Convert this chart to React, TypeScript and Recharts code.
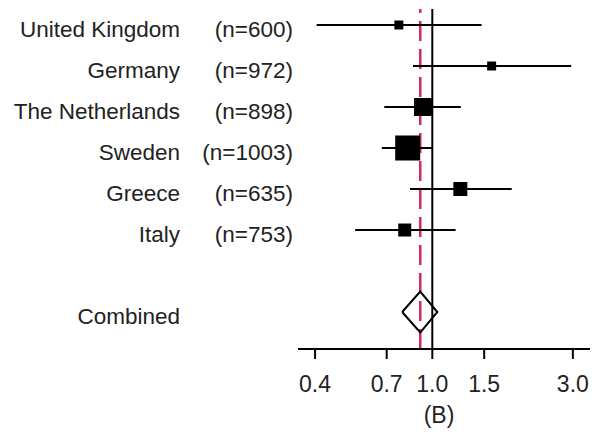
import React from 'react';
import {
  ScatterChart,
  Scatter,
  XAxis,
  YAxis,
  ReferenceLine,
  ErrorBar,
} from 'recharts';

const countries = ['United Kingdom', 'Germany', 'The Netherlands', 'Sweden', 'Greece', 'Italy'];
const sampleSizes = [600, 972, 898, 1003, 635, 753];
const estimates = [0.77, 1.59, 0.93, 0.825, 1.245, 0.806];
const lowerCI = [0.405, 0.86, 0.687, 0.674, 0.84, 0.547];
const upperCI = [1.47, 2.96, 1.25, 1.0, 1.86, 1.2];
const weights = [5.4, 5.4, 21.7, 41.9, 13.1, 11.3];

const combinedLabel = 'Combined';
const combinedEstimate = 0.91;
const combinedLower = 0.79;
const combinedUpper = 1.04;
const combinedRow = 7;

const xTicks = [0.4, 0.7, 1.0, 1.5, 3.0];
const xDomain = [0.35, 3.43];
const yDomain = [-0.39, 7.902];

const FONT = '"Liberation Sans", Arial, sans-serif';
const TEXT = '#222';

const studyData = countries.map((c, i) => ({
  name: c,
  row: i,
  x: estimates[i],
  y: i,
  w: weights[i],
  err: [estimates[i] - lowerCI[i], upperCI[i] - estimates[i]],
}));

const diamondData = [
  { x: combinedLower, y: combinedRow },
  { x: combinedEstimate, y: combinedRow - 0.5 },
  { x: combinedUpper, y: combinedRow },
  { x: combinedEstimate, y: combinedRow + 0.5 },
  { x: combinedLower, y: combinedRow },
];

const rowLabels: Record<number, [string, string]> = {};
countries.forEach((c, i) => {
  rowLabels[i] = [c, `(n=${sampleSizes[i]})`];
});
rowLabels[combinedRow] = [combinedLabel, ''];
const yTicks = [0, 1, 2, 3, 4, 5, combinedRow];

const maxW = Math.max(...weights);

const SquareShape = (props: any) => {
  const { cx, cy, payload } = props;
  const side = 25 * Math.sqrt(payload.w / maxW);
  return <rect x={cx - side / 2} y={cy - side / 2} width={side} height={side} fill="#000" />;
};

const YTick = (props: any) => {
  const { y, payload } = props;
  const lab = rowLabels[payload.value];
  if (!lab) return null;
  return (
    <g fontFamily={FONT} fontSize={22.5} fill={TEXT}>
      <text x={180} y={y + 12} textAnchor="end">{lab[0]}</text>
      {lab[1] ? <text x={293} y={y + 12} textAnchor="end">{lab[1]}</text> : null}
    </g>
  );
};

const XTick = (props: any) => {
  const { x, y, payload } = props;
  return (
    <text x={x} y={y + 31} textAnchor="middle" fontFamily={FONT} fontSize={23} fill={TEXT}>
      {Number(payload.value).toFixed(1)}
    </text>
  );
};

const XLabel = (props: any) => {
  const vb = props.viewBox || {};
  return (
    <text x={vb.x + vb.width / 2 - 5} y={423} textAnchor="middle" fontFamily={FONT} fontSize={23} fill={TEXT}>
      (B)
    </text>
  );
};

export default function App() {
  return (
    <div style={{ position: 'absolute', left: 0, top: 0, background: '#fff' }}>
      <ScatterChart width={605} height={434} margin={{ top: 9, right: 15, bottom: 0, left: 0 }}>
        <XAxis
          type="number"
          dataKey="x"
          scale="log"
          domain={xDomain}
          allowDataOverflow
          ticks={xTicks}
          tick={<XTick />}
          tickSize={10}
          axisLine={{ stroke: '#000', strokeWidth: 2 }}
          tickLine={{ stroke: '#000', strokeWidth: 2 }}
          height={85}
          label={<XLabel />}
        />
        <YAxis
          type="number"
          dataKey="y"
          domain={yDomain}
          reversed
          allowDataOverflow
          ticks={yTicks}
          tick={<YTick />}
          axisLine={false}
          tickLine={false}
          width={298}
        />
        <ReferenceLine x={combinedEstimate} stroke="#d42a5e" strokeWidth={2.5} strokeDasharray="20 8" />
        <ReferenceLine x={1} stroke="#000" strokeWidth={2} />
        <Scatter data={studyData} shape={<SquareShape />} isAnimationActive={false}>
          <ErrorBar dataKey="err" direction="x" width={0} stroke="#000" strokeWidth={2} />
        </Scatter>
        <Scatter
          data={diamondData}
          line={{ stroke: '#000', strokeWidth: 2 }}
          lineJointType="linear"
          shape={() => <g />}
          isAnimationActive={false}
        />
      </ScatterChart>
    </div>
  );
}
